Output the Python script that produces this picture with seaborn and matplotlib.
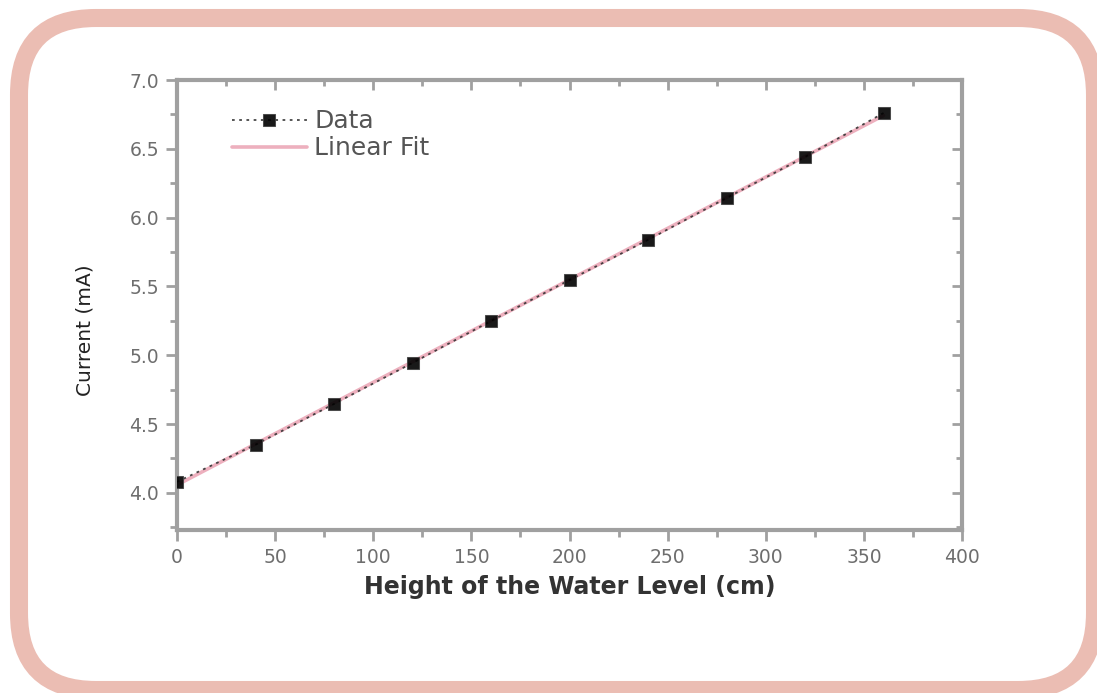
import matplotlib
matplotlib.use("Agg")
import matplotlib.pyplot as plt
from matplotlib.patches import FancyBboxPatch
from matplotlib.ticker import MultipleLocator, FormatStrFormatter
import numpy as np
import pandas as pd
import seaborn as sns

# ---- data ----
height_cm = [0, 40, 80, 120, 160, 200, 240, 280, 320, 360]
current_mA = [4.08, 4.35, 4.646, 4.944, 5.249, 5.547, 5.838, 6.143, 6.441, 6.76]
x_label = "Height of the Water Level (cm)"
y_label = "Current (mA)"
legend_labels = ["Data", "Linear Fit"]

df = pd.DataFrame({"height": height_cm, "current": current_mA})

sns.set_theme(style="white")
plt.rcParams["font.family"] = ["DejaVu Sans"]

W, H = 1097, 693
fig = plt.figure(figsize=(W / 100, H / 100), dpi=100)
fig.patch.set_facecolor("white")

# rounded pink frame (pixel geometry converted to figure fraction)
left_px, right_px, top_px, bottom_px = 19, 1095, 18, 690
frame = FancyBboxPatch((left_px / W, 1 - bottom_px / H),
                       (right_px - left_px) / W, (bottom_px - top_px) / H,
                       boxstyle="round,pad=0,rounding_size=0.07",
                       transform=fig.transFigure, facecolor="none",
                       edgecolor="#EBBDB3", linewidth=13, mutation_aspect=W / H,
                       zorder=0)
fig.patches.append(frame)

ax = fig.add_axes([177 / W, 1 - 530 / H, (962 - 177) / W, (530 - 80) / H])
ax.set_facecolor("white")

# linear fit
coef = np.polyfit(df["height"], df["current"], 1)
fit_x = np.array([min(height_cm), max(height_cm)])
fit_df = pd.DataFrame({"height": fit_x, "current": np.polyval(coef, fit_x)})
sns.lineplot(data=fit_df, x="height", y="current", ax=ax, color="#EDB0BE",
             linewidth=2.6, label=legend_labels[1], zorder=2)

# data
sns.lineplot(data=df, x="height", y="current", ax=ax, color="#333333",
             linestyle=(0, (1.5, 2.5)), linewidth=1.3, marker="s", markersize=9,
             markerfacecolor="black", markeredgecolor="#444444",
             label=legend_labels[0], zorder=3, alpha=0.9)

ax.set_xlim(0, 400)
ax.set_ylim(3.73, 7.0)
ax.xaxis.set_major_locator(MultipleLocator(50))
ax.xaxis.set_minor_locator(MultipleLocator(25))
ax.yaxis.set_major_locator(MultipleLocator(0.5))
ax.yaxis.set_minor_locator(MultipleLocator(0.25))
ax.yaxis.set_major_formatter(FormatStrFormatter("%.1f"))

spine_c = "#A0A0A0"
for s in ax.spines.values():
    s.set_color(spine_c)
    s.set_linewidth(3)

ax.tick_params(which="both", direction="out", color=spine_c, width=2,
               labelcolor="#6E6E6E", labelsize=13.5, bottom=True, left=True)
ax.tick_params(which="major", length=8, pad=5)
ax.tick_params(which="minor", length=5)

# mirrored inward ticks on top/right
top = ax.secondary_xaxis("top")
top.xaxis.set_major_locator(MultipleLocator(50))
top.xaxis.set_minor_locator(MultipleLocator(25))
top.tick_params(which="both", direction="in", color=spine_c, width=2, labeltop=False)
top.tick_params(which="major", length=7)
top.tick_params(which="minor", length=4)
top.spines["top"].set_visible(False)
right = ax.secondary_yaxis("right")
right.yaxis.set_major_locator(MultipleLocator(0.5))
right.yaxis.set_minor_locator(MultipleLocator(0.25))
right.tick_params(which="both", direction="in", color=spine_c, width=2, labelright=False)
right.tick_params(which="major", length=7)
right.tick_params(which="minor", length=4)
right.spines["right"].set_visible(False)

ax.set_xlabel(x_label, fontsize=17, fontweight="bold", color="#333333")
ax.xaxis.set_label_coords(0.5, -0.10)
ax.set_ylabel(y_label, fontsize=14.5, color="#222222")
ax.yaxis.set_label_coords(-0.105, 0.444)

handles, labels = ax.get_legend_handles_labels()
order = [labels.index(legend_labels[0]), labels.index(legend_labels[1])]
leg = ax.legend([handles[i] for i in order], [labels[i] for i in order],
                loc="upper left", bbox_to_anchor=(0.057, 0.957), frameon=False,
                borderaxespad=0, fontsize=18, handlelength=3.0, handletextpad=0.3,
                labelspacing=0.12, labelcolor="#555555")

fig.savefig("out.png", dpi=100, facecolor="white")
